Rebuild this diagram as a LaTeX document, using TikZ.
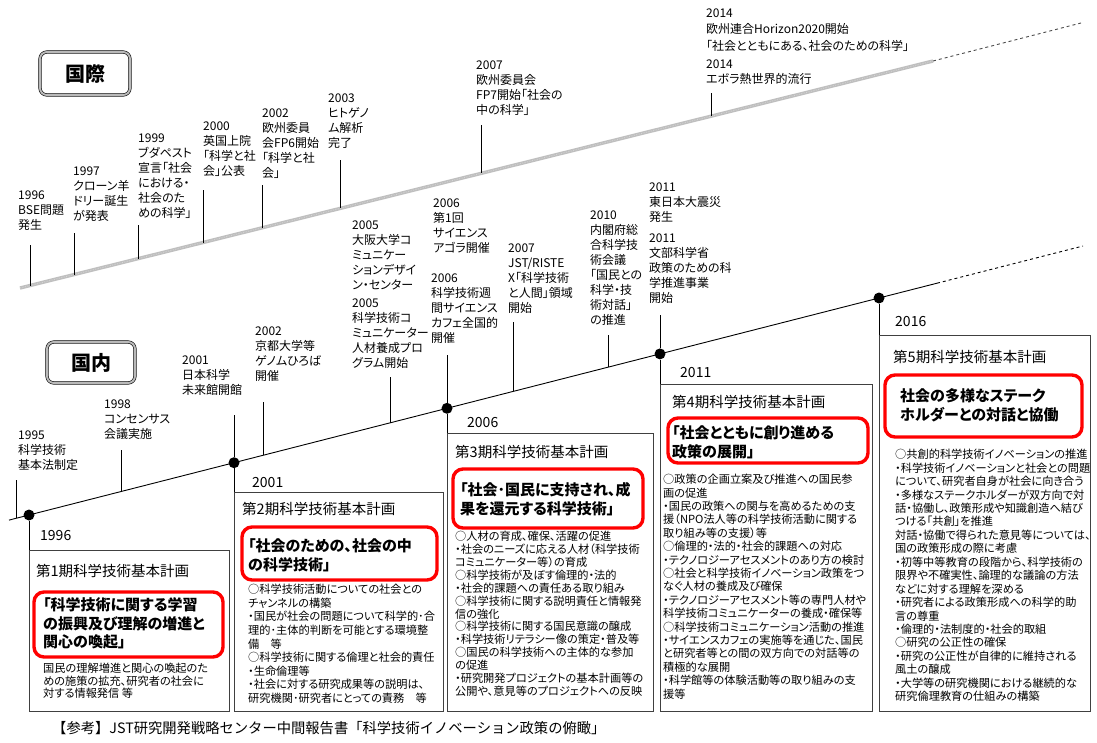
\documentclass[tikz,border=0pt]{standalone}
\usepackage{fontspec}
\setmainfont{Noto Sans CJK JP}[RawFeature={+palt}]
\newfontfamily\jpfull{Noto Sans CJK JP}
\begin{document}
\begin{tikzpicture}[x=1pt,y=-1pt,
  lbl/.style={anchor=north west, align=left, inner sep=0pt, font=\fontsize{12}{15}\selectfont},
  tickline/.style={line width=0.8pt},
  tldot/.style={circle, fill=black, inner sep=0pt, minimum size=11pt},
  planbox/.style={draw=black!75, line width=0.9pt},
  redbox/.style={draw=red, line width=3.4pt, rounded corners=10pt},
  yr/.style={anchor=west, inner sep=0pt, font=\fontsize{14}{16}\selectfont},
  hdr/.style={anchor=west, inner sep=0pt, font=\fontsize{14.5}{17}\selectfont},
  keytext/.style={anchor=north west, align=left, inner sep=0pt, font=\bfseries\fontsize{15}{18.5}\selectfont},
  bodytext/.style={anchor=north west, align=left, inner sep=0pt, font=\fontsize{11.2}{13.5}\selectfont},
  areabox/.style={draw=black, double=gray!55, double distance=2pt, line width=0.6pt, rounded corners=7pt, font=\bfseries\fontsize{20}{22}\selectfont, inner sep=0pt},
]
\useasboundingbox (0,0) rectangle (1097,742);
\fill[white] (0,0) rectangle (1097,742);

% ---------- area labels ----------
\node[areabox, minimum width=90pt, minimum height=43pt] (kokusai) at (85,73.5) {国際};
\node[areabox, minimum width=88pt, minimum height=41pt] (kokunai) at (91,362.5) {国内};

% ---------- international timeline ----------
\coordinate (ia) at (20,288);
\coordinate (ib) at (933,61);
\coordinate (ic) at (1081,23);
\draw[gray!50, line width=3.4pt] (ia) -- (ib);
\draw[white!70!gray, line width=0.6pt, dash pattern=on 1pt off 1.5pt] (ia) -- (ib);
\draw[gray!60!black, dashed, line width=0.9pt] (ib) -- (ic);

\draw[tickline] (30,245) -- (30,285.5);
\draw[tickline] (74,233) -- (74,274.6);
\draw[tickline] (138,225) -- (138,258.7);
\draw[tickline] (203,190) -- (203,242.5);
\draw[tickline] (262,185) -- (262,227.8);
\draw[tickline] (340,160) -- (340,208.4);
\draw[tickline] (481,125) -- (481,173.4);
\draw[tickline] (711,93) -- (711,116.2);

\node[lbl] (i96) at (18,190.5) {1996\\BSE問題\\発生};
\node[lbl] (i97) at (73,166.5) {1997\\クローン羊\\ドリー誕生\\が発表};
\node[lbl] (i99) at (138,133.5) {1999\\ブダペスト\\宣言「社会\\における・\\社会のた\\めの科学」};
\node[lbl] (i00) at (203,121.5) {2000\\英国上院\\「科学と社\\会」公表};
\node[lbl] (i02) at (262,108.5) {2002\\欧州委員\\会FP6開始\\「科学と社\\会」};
\node[lbl] (i03) at (328,93.5) {2003\\ヒトゲノ\\ム解析\\完了};
\node[lbl] (i07) at (476,60.5) {2007\\欧州委員会\\FP7開始「社会の\\中の科学」};
\node[lbl, font=\fontsize{12}{16.5}\selectfont] (i14a) at (706,8.5) {2014\\欧州連合Horizon2020開始\\「社会とともにある、社会のための科学」};
\node[lbl] (i14b) at (706,59.5) {2014\\エボラ熱世界的流行};

% ---------- domestic timeline ----------
\coordinate (da) at (9,520.1);
\coordinate (de) at (937,283.2);
\coordinate (df) at (1083,246);
\node[tldot] (p96) at (29,515) {};
\node[tldot] (p01) at (234,462.7) {};
\node[tldot] (p06) at (447,408.3) {};
\node[tldot] (p11) at (660,353.9) {};
\node[tldot] (p16) at (879,298) {};
\draw[line width=0.9pt] (da) -- (p96.center) -- (p01.center) -- (p06.center) -- (p11.center) -- (p16.center) -- (de);
\draw[line width=0.9pt, dashed] (de) -- (df);

\draw[tickline] (16,480) -- (16,518.3);
\draw[tickline] (121,450) -- (121,491.5);
\draw[tickline] (234,415) -- (p01);
\draw[tickline] (263,402) -- (263,455.3);
\draw[tickline] (390,377) -- (390,422.8);
\draw[tickline] (447,355) -- (p06);
\draw[tickline] (513,322) -- (513,391.4);
\draw[tickline] (608,335) -- (608,367.2);
\draw[tickline] (660,315) -- (p11);

\node[lbl] (d95) at (18,430.5) {1995\\科学技術\\基本法制定};
\node[lbl] (d98) at (104,399.5) {1998\\コンセンサス\\会議実施};
\node[lbl] (d01) at (182,355.5) {2001\\日本科学\\未来館開館};
\node[lbl] (d02) at (255,326.5) {2002\\京都大学等\\ゲノムひろば\\開催};
\node[lbl] (d05a) at (352,220.5) {2005\\大阪大学コ\\ミュニケー\\ションデザイ\\ン・センター};
\node[lbl] (d05b) at (352,298.5) {2005\\科学技術コ\\ミュニケーター\\人材養成プロ\\グラム開始};
\node[lbl] (d06a) at (433,198.5) {2006\\第1回\\サイエンス\\アゴラ開催};
\node[lbl] (d06b) at (431,273.5) {2006\\科学技術週\\間サイエンス\\カフェ全国的\\開催};
\node[lbl] (d07) at (508,243.5) {2007\\JST/RISTE\\X「科学技術\\と人間」領域\\開始};
\node[lbl] (d10) at (590,210.5) {2010\\内閣府総\\合科学技\\術会議\\「国民との\\科学・技\\術対話」\\の推進};
\node[lbl] (d11a) at (649,182.5) {2011\\東日本大震災\\発生};
\node[lbl] (d11b) at (649,233.5) {2011\\文部科学省\\政策のための科\\学推進事業\\開始};

% ---------- plan boxes ----------
\draw[tickline] (p96) -- (29,550);
\draw[planbox] (29,550) rectangle (229,711);
\draw[tickline] (p01) -- (234,492);
\draw[planbox] (234,492) rectangle (443,711);
\draw[tickline] (p06) -- (447,433);
\draw[planbox] (447,433) rectangle (653,711);
\draw[tickline] (p11) -- (660,384);
\draw[planbox] (660,384) rectangle (872,711);
\draw[tickline] (p16) -- (879,335);
\draw[planbox] (879,335) rectangle (1090,711);

\node[yr] (y96) at (40,535) {1996};
\node[yr] (y01) at (252,482) {2001};
\node[yr] (y06) at (467,423) {2006};
\node[yr] (y11) at (680,373) {2011};
\node[yr] (y16) at (895,322) {2016};

\node[hdr] (h1) at (36,571) {第1期科学技術基本計画};
\node[hdr] (h2) at (242,509) {第2期科学技術基本計画};
\node[hdr] (h3) at (455,452) {第3期科学技術基本計画};
\node[hdr] (h4) at (672,402) {第4期科学技術基本計画};
\node[hdr] (h5) at (893,357) {第5期科学技術基本計画};

\draw[redbox] (34,592) rectangle (223,657);
\draw[redbox] (242,527) rectangle (437,580);
\draw[redbox] (453,469) rectangle (643,528);
\draw[redbox] (668,418) rectangle (868,463);
\draw[redbox] (885,375) rectangle (1082,437);

\node[keytext] (k1) at (43,597.5) {「科学技術に関する学習\\の振興及び理解の増進と\\関心の喚起」};
\node[keytext] (k2) at (248,538.5) {「社会のための、社会の中\\の科学技術」};
\node[keytext] (k3) at (460,482.5) {「社会･国民に支持され、成\\果を還元する科学技術」};
\node[keytext] (k4) at (672,425.5) {「社会とともに創り進める\\政策の展開」};
\node[keytext] (k5) at (900,388.5) {社会の多様なステーク\\ホルダーとの対話と協働};

\node[bodytext, font=\fontsize{11.2}{12.6}\selectfont] (b1) at (43,663) {国民の理解増進と関心の喚起のた\\めの施策の拡充、研究者の社会に\\対する情報発信 等};
\node[bodytext, font=\fontsize{11.2}{13.6}\selectfont] (b2) at (248,584) {○科学技術活動についての社会との\\チャンネルの構築\\・国民が社会の問題について科学的･合\\理的･主体的判断を可能とする環境整\\備　等\\○科学技術に関する倫理と社会的責任\\・生命倫理等\\・社会に対する研究成果等の説明は、\\研究機関･研究者にとっての責務　等};
\node[bodytext, font=\fontsize{11.2}{12.9}\selectfont] (b3) at (455,531) {○人材の育成、確保、活躍の促進\\・社会のニーズに応える人材（科学技術\\コミュニケーター等）の育成\\○科学技術が及ぼす倫理的・法的\\・社会的課題への責任ある取り組み\\○科学技術に関する説明責任と情報発\\信の強化\\○科学技術に関する国民意識の醸成\\・科学技術リテラシー像の策定・普及等\\○国民の科学技術への主体的な参加\\の促進\\・研究開発プロジェクトの基本計画等の\\公開や、意見等のプロジェクトへの反映};
\node[bodytext, font=\fontsize{11.2}{13.4}\selectfont] (b4) at (663,474) {○政策の企画立案及び推進への国民参\\画の促進\\・国民の政策への関与を高めるための支\\援（NPO法人等の科学技術活動に関する\\取り組み等の支援）等\\○倫理的・法的・社会的課題への対応\\・テクノロジーアセスメントのあり方の検討\\○社会と科学技術イノベーション政策をつ\\なぐ人材の養成及び確保\\・テクノロジーアセスメント等の専門人材や\\科学技術コミュニケーターの養成・確保等\\○科学技術コミュニケーション活動の推進\\・サイエンスカフェの実施等を通じた、国民\\と研究者等との間の双方向での対話等の\\積極的な展開\\・科学館等の体験活動等の取り組みの支\\援等};
\node[bodytext, font=\fontsize{11.2}{13.45}\selectfont] (b5) at (895,449) {○共創的科学技術イノベーションの推進\\・科学技術イノベーションと社会との問題\\について、研究者自身が社会に向き合う\\・多様なステークホルダーが双方向で対\\話・協働し、政策形成や知識創造へ結び\\つける「共創」を推進\\対話・協働で得られた意見等については、\\国の政策形成の際に考慮\\・初等中等教育の段階から、科学技術の\\限界や不確実性、論理的な議論の方法\\などに対する理解を深める\\・研究者による政策形成への科学的助\\言の尊重\\・倫理的・法制度的・社会的取組\\○研究の公正性の確保\\・研究の公正性が自律的に維持される\\風土の醸成\\・大学等の研究機関における継続的な\\研究倫理教育の仕組みの構築};

\node[anchor=west, inner sep=0pt, font=\jpfull\fontsize{14.3}{15}\selectfont] (cap) at (52,728) {【参考】JST研究開発戦略センター中間報告書「科学技術イノベーション政策の俯瞰」};
\end{tikzpicture}
\end{document}
